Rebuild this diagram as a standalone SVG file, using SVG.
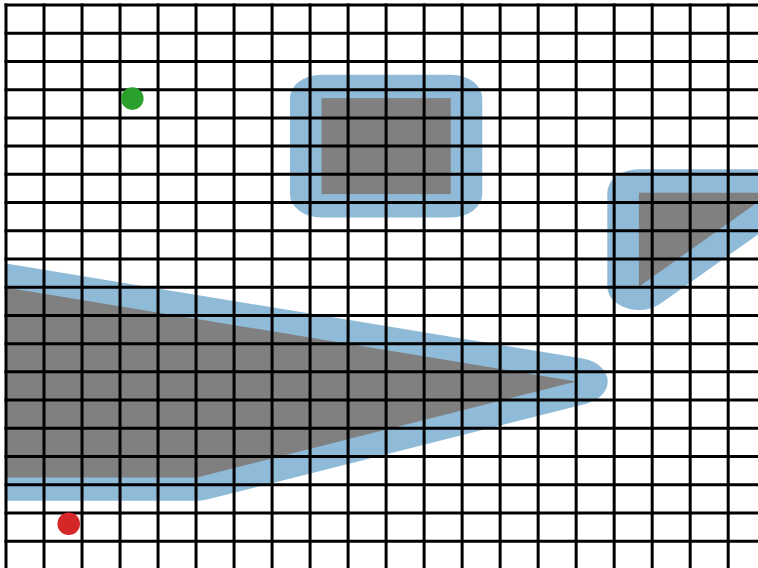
<svg xmlns="http://www.w3.org/2000/svg" width="758" height="568" viewBox="0 0 758 568">
<style>
.buf{fill:#8fbbd9;stroke:#8fbbd9;stroke-width:1.66;stroke-linejoin:round}
.shape{fill:#808080}
.grid{fill:none;stroke:#000;stroke-width:3}
</style>
<defs>
<clipPath id="ax"><rect x="6" y="5" width="752" height="563"/></clipPath>
</defs>
<rect width="758" height="568" fill="#ffffff"/>
<g clip-path="url(#ax)">
<g transform="matrix(38.01 0 0 28.22 6 5)">
<g id="obstacle-rect">
<rect class="buf" x="8.3" y="3.3" width="3.4" height="3.4"/>
<rect class="shape" x="8.3" y="3.3" width="3.4" height="3.4"/>
</g>
<g id="obstacle-triangle">
<polygon class="buf" points="16.65,6.65 20.13,6.65 16.65,9.98"/>
<polygon class="shape" points="16.65,6.65 20.13,6.65 16.65,9.98"/>
</g>
<g id="obstacle-wedge">
<polygon class="buf" points="-5,8.9 15,13.34 5.02,16.74 -5,16.74"/>
<polygon class="shape" points="-5,8.9 15,13.34 5.02,16.74 -5,16.74"/>
</g>
</g>
</g>
<g id="grid">
<path class="grid" d="M6 3.5V568M44.01 3.5V568M82.02 3.5V568M120.03 3.5V568M158.04 3.5V568M196.05 3.5V568M234.06 3.5V568M272.07 3.5V568M310.08 3.5V568M348.09 3.5V568M386.1 3.5V568M424.11 3.5V568M462.12 3.5V568M500.13 3.5V568M538.14 3.5V568M576.15 3.5V568M614.16 3.5V568M652.17 3.5V568M690.18 3.5V568M728.19 3.5V568"/>
<path class="grid" d="M4.5 5H758M4.5 33.22H758M4.5 61.44H758M4.5 89.66H758M4.5 117.88H758M4.5 146.1H758M4.5 174.32H758M4.5 202.54H758M4.5 230.76H758M4.5 258.98H758M4.5 287.2H758M4.5 315.42H758M4.5 343.64H758M4.5 371.86H758M4.5 400.08H758M4.5 428.3H758M4.5 456.52H758M4.5 484.74H758M4.5 512.96H758M4.5 541.18H758"/>
</g>
<g id="start"><circle cx="132.3" cy="98.6" r="11.3" fill="#2ca02c"/></g>
<g id="goal"><circle cx="68.7" cy="523.7" r="11.3" fill="#d62728"/></g>
</svg>
